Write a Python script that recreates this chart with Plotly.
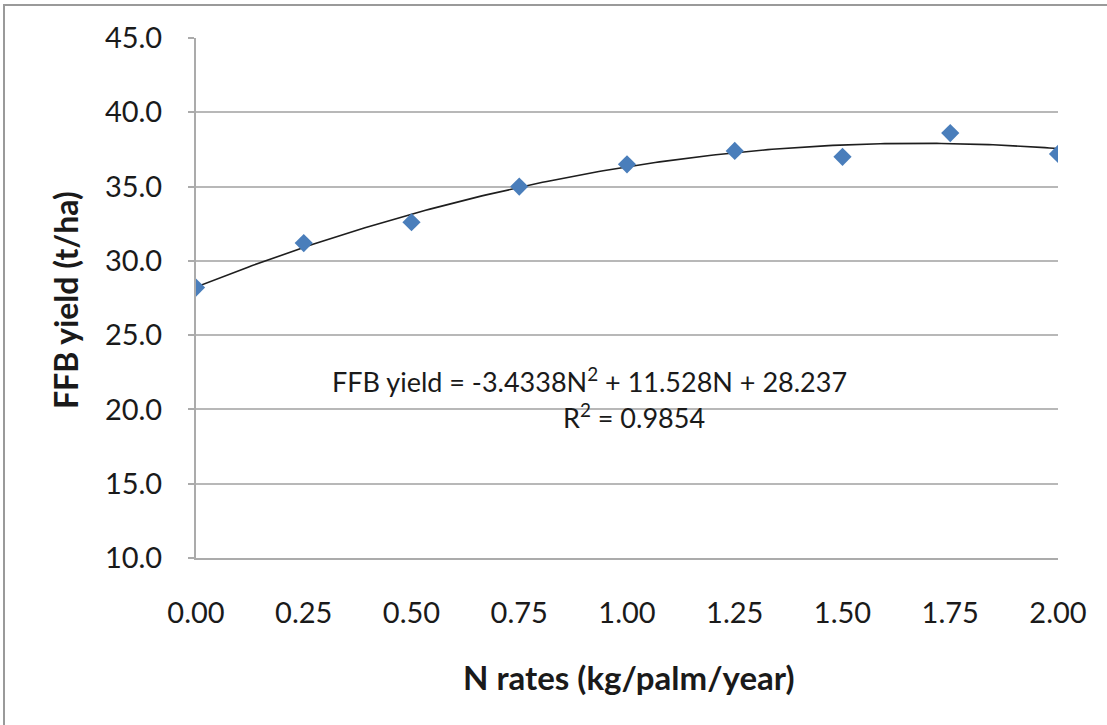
import numpy as np
import plotly.graph_objects as go

# N application rates (kg/palm/year) and mean FFB yield (t/ha)
n_rates = [0.00, 0.25, 0.50, 0.75, 1.00, 1.25, 1.50, 1.75, 2.00]
ffb_yield = [28.2, 31.2, 32.6, 35.0, 36.5, 37.4, 37.0, 38.6, 37.2]

# Quadratic trend line coefficients (as printed in the equation label)
coef_a, coef_b, coef_c = -3.4338, 11.528, 28.237
r_squared = 0.9854

x_ticks = [0.00, 0.25, 0.50, 0.75, 1.00, 1.25, 1.50, 1.75, 2.00]
y_ticks = [10, 15, 20, 25, 30, 35, 40, 45]

# Plot-area geometry in pixels
W, H = 1107, 725
L, R, T, B = 196, 49, 38, 167
PW, PH = W - L - R, H - T - B


def px_x(px):
    return (px - L) / PW


def px_y(py):
    return (H - B - py) / PH


trend_x = np.linspace(0, 2, 200)
trend_y = coef_a * trend_x ** 2 + coef_b * trend_x + coef_c

FONT = "Lato, 'Open Sans', Arial, sans-serif"
TXT = "#1a1a1a"

fig = go.Figure()
fig.add_trace(go.Scatter(
    x=trend_x, y=trend_y, mode="lines",
    line=dict(color="#1e1e1e", width=1.6),
    hoverinfo="skip", showlegend=False,
))
fig.add_trace(go.Scatter(
    x=n_rates, y=ffb_yield, mode="markers",
    marker=dict(symbol="diamond", size=14, color="#4A7EBB"),
    showlegend=False,
))

fig.update_layout(
    width=W, height=H,
    margin=dict(l=L, r=R, t=T, b=B, pad=0),
    paper_bgcolor="white", plot_bgcolor="white",
    font=dict(family=FONT, color=TXT),
    xaxis=dict(
        range=[0, 2], tickvals=x_ticks,
        ticktext=[f"{v:.2f}" for v in x_ticks],
        tickfont=dict(size=29, family=FONT, color=TXT),
        showgrid=False, zeroline=False,
        showline=True, linecolor="#ababab", linewidth=2,
        ticks="", ticklabelstandoff=28,
    ),
    yaxis=dict(
        range=[10, 45], tickvals=y_ticks,
        ticktext=[f"{v:.1f}" for v in y_ticks],
        tickfont=dict(size=29, family=FONT, color=TXT),
        showgrid=True, gridcolor="#b8b8b8", gridwidth=1.5,
        zeroline=False,
        showline=True, linecolor="#ababab", linewidth=2,
        ticks="outside", ticklen=6, tickcolor="#ababab", tickwidth=1.5,
        ticklabelstandoff=20,
    ),
    annotations=[
        dict(text="FFB yield = -3.4338N<sup>2</sup> + 11.528N + 28.237",
             x=0.912, y=21.98, xref="x", yref="y", showarrow=False,
             xanchor="center", yanchor="middle",
             font=dict(size=27, family=FONT, color=TXT)),
        dict(text=f"R<sup>2</sup> = {r_squared}",
             x=1.016, y=19.56, xref="x", yref="y", showarrow=False,
             xanchor="center", yanchor="middle",
             font=dict(size=27, family=FONT, color=TXT)),
        dict(text="<b>FFB yield (t/ha)</b>", textangle=-90,
             x=px_x(65), y=px_y(300), xref="paper", yref="paper",
             showarrow=False, xanchor="center", yanchor="middle",
             font=dict(size=32, family=FONT, color=TXT)),
        dict(text="<b>N rates (kg/palm/year)</b>",
             x=px_x(629), y=px_y(677), xref="paper", yref="paper",
             showarrow=False, xanchor="center", yanchor="middle",
             font=dict(size=33, family=FONT, color=TXT)),
    ],
    shapes=[
        dict(type="line", xref="paper", yref="paper",
             x0=px_x(3), x1=px_x(W + 5), y0=px_y(5), y1=px_y(5),
             line=dict(color="#9a9a9a", width=2)),
        dict(type="line", xref="paper", yref="paper",
             x0=px_x(4), x1=px_x(4), y0=px_y(5), y1=px_y(H + 5),
             line=dict(color="#9a9a9a", width=2)),
    ],
)

fig.write_html("out.html")
